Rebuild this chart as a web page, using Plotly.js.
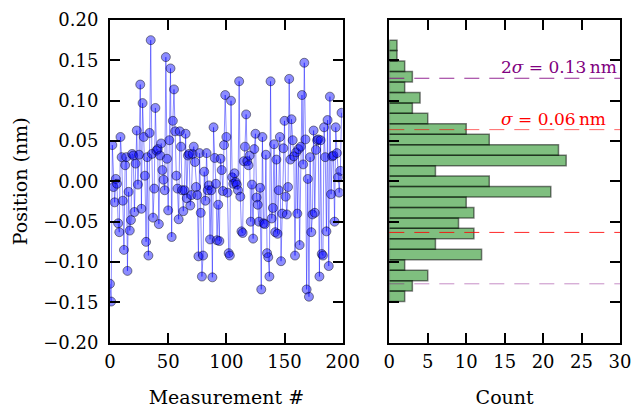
<!DOCTYPE html>
<html>
<head>
<meta charset="utf-8">
<script src="https://cdn.plot.ly/plotly-3.0.1.min.js"></script>
<style>html,body{margin:0;padding:0;background:#fff;}#chart{width:633px;height:409px;}</style>
</head>
<body>
<div id="chart"></div>
<script>
// Measured positions (nm), in measurement order
const positionsPart1 = [-0.127, -0.149, 0.045, -0.007, -0.026, 0.003, -0.003, -0.052, -0.063, 0.055,
  0.030, -0.024, -0.085, 0.020, 0.030, -0.111, -0.013, -0.061, -0.048, 0.034,
  0.032, -0.038, 0.022, 0.063, -0.004, 0.033, 0.120, -0.034, 0.097, 0.055,
  0.007, -0.075, 0.030, -0.092, 0.060, 0.175, 0.034, -0.045, -0.009, 0.091, 0.038];
const positionsPart2 = [0.040, -0.053, 0.032, 0.047, 0.014, 0.002, -0.011, 0.154, 0.028, -0.036,
  0.051, 0.140, -0.069, 0.075, 0.114, 0.062, 0.007, -0.009, -0.047, 0.062,
  0.043, -0.011, -0.037, -0.011, 0.059, -0.021, 0.032, 0.034, -0.030, -0.017,
  0.034, 0.043, 0.024, -0.007, -0.017, -0.093, 0.035, -0.039, -0.118, -0.092, 0.012];
const positionsPart3 = [-0.024, 0.035, -0.011, -0.005, -0.072, -0.011, -0.119, 0.067, 0.029, -0.003,
  -0.073, -0.029, -0.074, 0.028, 0.014, -0.012, 0.045, 0.107, 0.055, -0.014,
  -0.089, -0.092, 0.100, 0.005, -0.003, 0.010, -0.001, -0.004, -0.011, 0.124,
  -0.019, -0.062, -0.064, 0.025, 0.043, 0.083, 0.025, 0.020, 0.032, -0.050,
  -0.004, -0.071, 0.040, 0.059, -0.020];
const positionsPart4 = [-0.029, -0.050, -0.008, -0.134, 0.055, -0.052, -0.053, 0.033, -0.089, -0.094,
  -0.118, 0.124, -0.046, -0.033, 0.046, -0.063, 0.027, -0.065, -0.011, 0.055,
  -0.099, -0.040, 0.041, 0.075, -0.019, -0.041, -0.007, 0.127, 0.027, 0.077,
  0.051, 0.031, -0.092, 0.036, -0.040, 0.040, -0.079, 0.043, 0.107, 0.021,
  0.147, 0.052, -0.134, 0.003, -0.143];
const positionsPart5 = [0.030, -0.063, -0.041, 0.063, -0.039, 0.039, 0.051, 0.052, -0.118, 0.051,
  -0.090, -0.092, 0.067, 0.030, -0.062, 0.076, -0.105, 0.105, -0.016, 0.031,
  0.032, -0.050, 0.067, 0.035, 0.005, -0.014, 0.013, 0.085];

// Histogram counts, from lowest bin to highest bin (25 bins spanning data min..max)
const histCounts = [2, 3, 5, 2, 12, 6, 11, 9, 11, 10, 21, 13, 6, 23, 22, 13, 10, 5, 3, 4, 2, 3, 2, 1, 1];

// Statistics shown as reference lines
const meanNm = 0.0004;
const sigmaNm = 0.0637;

const xTickVals = [0, 50, 100, 150, 200];
const countTickVals = [0, 5, 10, 15, 20, 25, 30];
const yTickVals = [-0.20, -0.15, -0.10, -0.05, 0.00, 0.05, 0.10, 0.15, 0.20];

const positions = positionsPart1.concat(positionsPart2, positionsPart3, positionsPart4, positionsPart5);
const measurementIdx = positions.map((_, i) => i);

const binLow = Math.min(...positions);
const binHigh = Math.max(...positions);
const binWidth = (binHigh - binLow) / histCounts.length;
const binCenters = histCounts.map((_, i) => binLow + (i + 0.5) * binWidth);

const FONT = 'DejaVu Serif';

const traces = [
  {
    type: 'scatter', mode: 'lines+markers',
    x: measurementIdx, y: positions,
    xaxis: 'x', yaxis: 'y',
    line: {color: 'rgba(0,0,255,0.45)', width: 1},
    marker: {size: 9, color: 'rgba(0,0,255,0.45)', line: {color: 'rgba(0,0,0,0.45)', width: 1}},
    cliponaxis: true, hoverinfo: 'skip'
  },
  {
    type: 'bar', orientation: 'h',
    x: histCounts, y: binCenters, width: binWidth,
    xaxis: 'x2', yaxis: 'y2',
    marker: {color: 'rgba(0,128,0,0.5)', line: {color: 'rgba(0,0,0,0.5)', width: 1.5}},
    hoverinfo: 'skip'
  }
];

const axisCommon = {
  showline: true, linewidth: 2, linecolor: 'black', mirror: 'ticks',
  ticks: 'inside', ticklen: 10, tickwidth: 2, tickcolor: 'black',
  showgrid: false, zeroline: false, automargin: false,
  tickfont: {family: FONT, size: 18, color: 'black'}
};

function refLine(y, color) {
  return {type: 'line', xref: 'x2 domain', x0: 0, x1: 1, yref: 'y2', y0: y, y1: y,
    line: {color: color, width: 1, dash: '15px,10px'}, layer: 'above'};
}

const layout = {
  width: 633, height: 409,
  margin: {l: 0, r: 0, t: 0, b: 0},
  paper_bgcolor: 'white', plot_bgcolor: 'white',
  showlegend: false, bargap: 0,
  font: {family: FONT, size: 18, color: 'black'},
  xaxis: Object.assign({}, axisCommon, {
    domain: [110/633, 342.7/633], range: [0, 200], tickvals: xTickVals,
    anchor: 'y', ticklabelstandoff: 2,
    title: {text: 'Measurement #', font: {family: FONT, size: 19}, standoff: 19}
  }),
  yaxis: Object.assign({}, axisCommon, {
    domain: [1 - 342.7/409, 1 - 20/409], range: [-0.2, 0.2], tickvals: yTickVals,
    tickformat: '.2f', anchor: 'x', ticklabelstandoff: 6,
    title: {text: 'Position (nm)', font: {family: FONT, size: 19}, standoff: 11}
  }),
  xaxis2: Object.assign({}, axisCommon, {
    domain: [389.3/633, 620/633], range: [0, 30], tickvals: countTickVals,
    anchor: 'y2', ticklabelstandoff: 2,
    title: {text: 'Count', font: {family: FONT, size: 19}, standoff: 19}
  }),
  yaxis2: Object.assign({}, axisCommon, {
    domain: [1 - 342.7/409, 1 - 20/409], range: [-0.2, 0.2], tickvals: yTickVals,
    anchor: 'x2', showticklabels: false
  }),
  shapes: [
    refLine(meanNm + 2 * sigmaNm, 'rgba(128,0,128,0.85)'),
    refLine(meanNm - 2 * sigmaNm, 'rgba(128,0,128,0.45)'),
    refLine(meanNm + sigmaNm, 'rgba(255,0,0,0.6)'),
    refLine(meanNm - sigmaNm, 'rgba(255,0,0,0.85)')
  ],
  annotations: [
    {xref: 'x2 domain', x: 1, xanchor: 'right', xshift: -1,
     yref: 'y2', y: meanNm + 2 * sigmaNm, yanchor: 'bottom', yshift: -1,
     text: '2<i>σ</i> = ' + (2 * sigmaNm).toFixed(2) + '\u2009nm', showarrow: false,
     font: {family: FONT, size: 17, color: 'purple'}},
    {xref: 'x2 domain', x: 1, xanchor: 'right', xshift: -12,
     yref: 'y2', y: meanNm + sigmaNm, yanchor: 'bottom', yshift: -1,
     text: '<i>σ</i> = ' + sigmaNm.toFixed(2) + '\u2009nm', showarrow: false,
     font: {family: FONT, size: 17, color: 'red'}}
  ]
};

Plotly.newPlot('chart', traces, layout, {staticPlot: true, displayModeBar: false});
</script>
</body>
</html>
